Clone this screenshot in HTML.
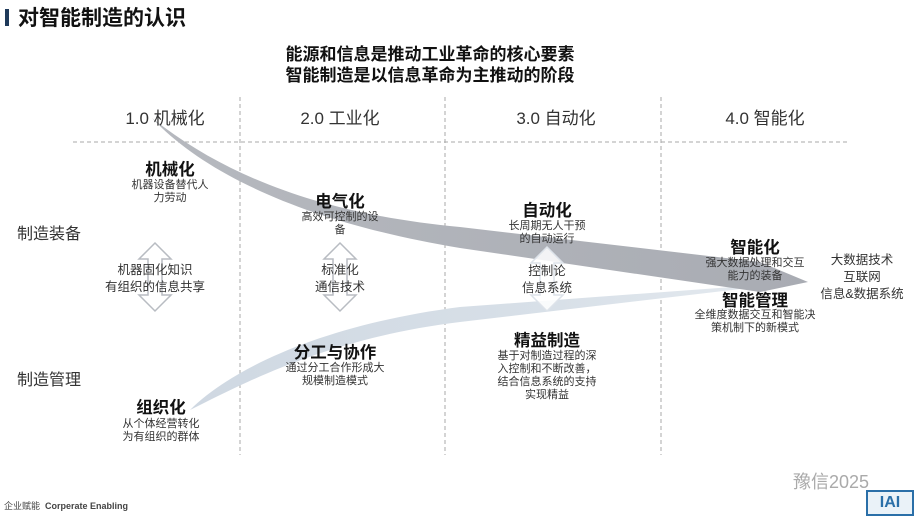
<!DOCTYPE html>
<html><head><meta charset="utf-8">
<style>
body{margin:0;width:916px;height:519px;background:#fff;position:relative;overflow:hidden;font-family:"Liberation Sans","Noto Sans CJK SC",sans-serif;color:#222}
.t{position:absolute;white-space:nowrap;text-align:center;transform:translateX(-50%)}
.b{font-weight:bold;font-size:16.5px;color:#111}
.s{font-size:11px;line-height:13px;color:#333}
.m{font-size:12.5px;line-height:17px;color:#333}
.h{font-size:17px;color:#333}
</style></head><body>
<svg width="916" height="519" style="position:absolute;left:0;top:0">
<defs>
<linearGradient id="g1" x1="0" x2="1" y1="0" y2="0"><stop offset="0" stop-color="#b6b9bf"/><stop offset="1" stop-color="#a9acb3"/></linearGradient>
<linearGradient id="g2" x1="0" x2="1" y1="0" y2="0"><stop offset="0" stop-color="#cfd8e2"/><stop offset="0.6" stop-color="#d8e0e8"/><stop offset="1" stop-color="#e6ebf0"/></linearGradient>
</defs>
<rect x="5" y="9" width="4" height="17" fill="#1f3a5a"/>
<g stroke="#aaa" stroke-dasharray="4,3" stroke-width="1">
<line x1="73" y1="142" x2="850" y2="142"/>
<line x1="240" y1="97" x2="240" y2="455"/>
<line x1="445" y1="97" x2="445" y2="455"/>
<line x1="661" y1="97" x2="661" y2="455"/>
</g>
<path d="M190,410 C230,370 320,325 460,307 L800,282 L460,322 C330,338 250,380 190,410 Z" fill="url(#g2)"/>
<path d="M152,118 C230,180 330,215 460,227 L760,262 L808,282 L760,292 L460,248 C320,225 210,180 152,118 Z" fill="url(#g1)"/>
<g fill="#fff" fill-opacity="0.85" stroke="#b8bcc2" stroke-width="1.5">
<path d="M155,243 L171,259 L162,259 L162,295 L171,295 L155,311 L139,295 L148,295 L148,259 L139,259 Z"/>
<path d="M340,243 L356,259 L347,259 L347,295 L356,295 L340,311 L324,295 L333,295 L333,259 L324,259 Z"/>
<path d="M547,247 L563,263 L554,263 L554,295 L563,295 L547,311 L531,295 L540,295 L540,263 L531,263 Z" stroke="#dde3ea"/>
</g>
</svg>
<div style="position:absolute;left:18px;top:2px;font-size:21px;font-weight:bold;color:#111">对智能制造的认识</div>
<div class="t" style="left:430px;top:44px;font-size:17px;font-weight:bold;line-height:21px;color:#111">能源和信息是推动工业革命的核心要素<br>智能制造是以信息革命为主推动的阶段</div>
<div class="t h" style="left:165px;top:104px">1.0 机械化</div>
<div class="t h" style="left:340px;top:104px">2.0 工业化</div>
<div class="t h" style="left:556px;top:104px">3.0 自动化</div>
<div class="t h" style="left:765px;top:104px">4.0 智能化</div>
<div style="position:absolute;left:17px;top:220px;font-size:16px;color:#333">制造装备</div>
<div style="position:absolute;left:17px;top:366px;font-size:16px;color:#333">制造管理</div>

<div class="t b" style="left:170px;top:156px">机械化</div>
<div class="t s" style="left:170px;top:179px">机器设备替代人<br>力劳动</div>
<div class="t b" style="left:340px;top:188px">电气化</div>
<div class="t s" style="left:340px;top:211px">高效可控制的设<br>备</div>
<div class="t b" style="left:547px;top:197px">自动化</div>
<div class="t s" style="left:547px;top:220px">长周期无人干预<br>的自动运行</div>
<div class="t b" style="left:755px;top:234px">智能化</div>
<div class="t s" style="left:755px;top:257px">强大数据处理和交互<br>能力的装备</div>
<div class="t b" style="left:755px;top:287px">智能管理</div>
<div class="t s" style="left:755px;top:309px">全维度数据交互和智能决<br>策机制下的新模式</div>
<div class="t m" style="left:862px;top:252px;line-height:17px">大数据技术<br>互联网<br>信息&amp;数据系统</div>

<div class="t m" style="left:155px;top:262px">机器固化知识<br>有组织的信息共享</div>
<div class="t m" style="left:340px;top:262px">标准化<br>通信技术</div>
<div class="t m" style="left:547px;top:263px">控制论<br>信息系统</div>

<div class="t b" style="left:335px;top:339px">分工与协作</div>
<div class="t s" style="left:335px;top:362px">通过分工合作形成大<br>规模制造模式</div>
<div class="t b" style="left:547px;top:327px">精益制造</div>
<div class="t s" style="left:547px;top:350px">基于对制造过程的深<br>入控制和不断改善，<br>结合信息系统的支持<br>实现精益</div>
<div class="t b" style="left:161px;top:394px">组织化</div>
<div class="t s" style="left:161px;top:418px">从个体经营转化<br>为有组织的群体</div>

<div style="position:absolute;left:4px;top:499px;font-size:9px;color:#444">企业赋能 &nbsp;<b>Corperate Enabling</b></div>
<div style="position:absolute;left:793px;top:468px;font-size:18px;color:#aaa">豫信2025</div>
<div style="position:absolute;left:866px;top:490px;width:48px;height:26px;border:2px solid #2a6fa8;box-sizing:border-box;background:#eaf2f8;color:#2a6fa8;font-weight:bold;font-size:16px;text-align:center;line-height:22px">IAI</div>
</body></html>
